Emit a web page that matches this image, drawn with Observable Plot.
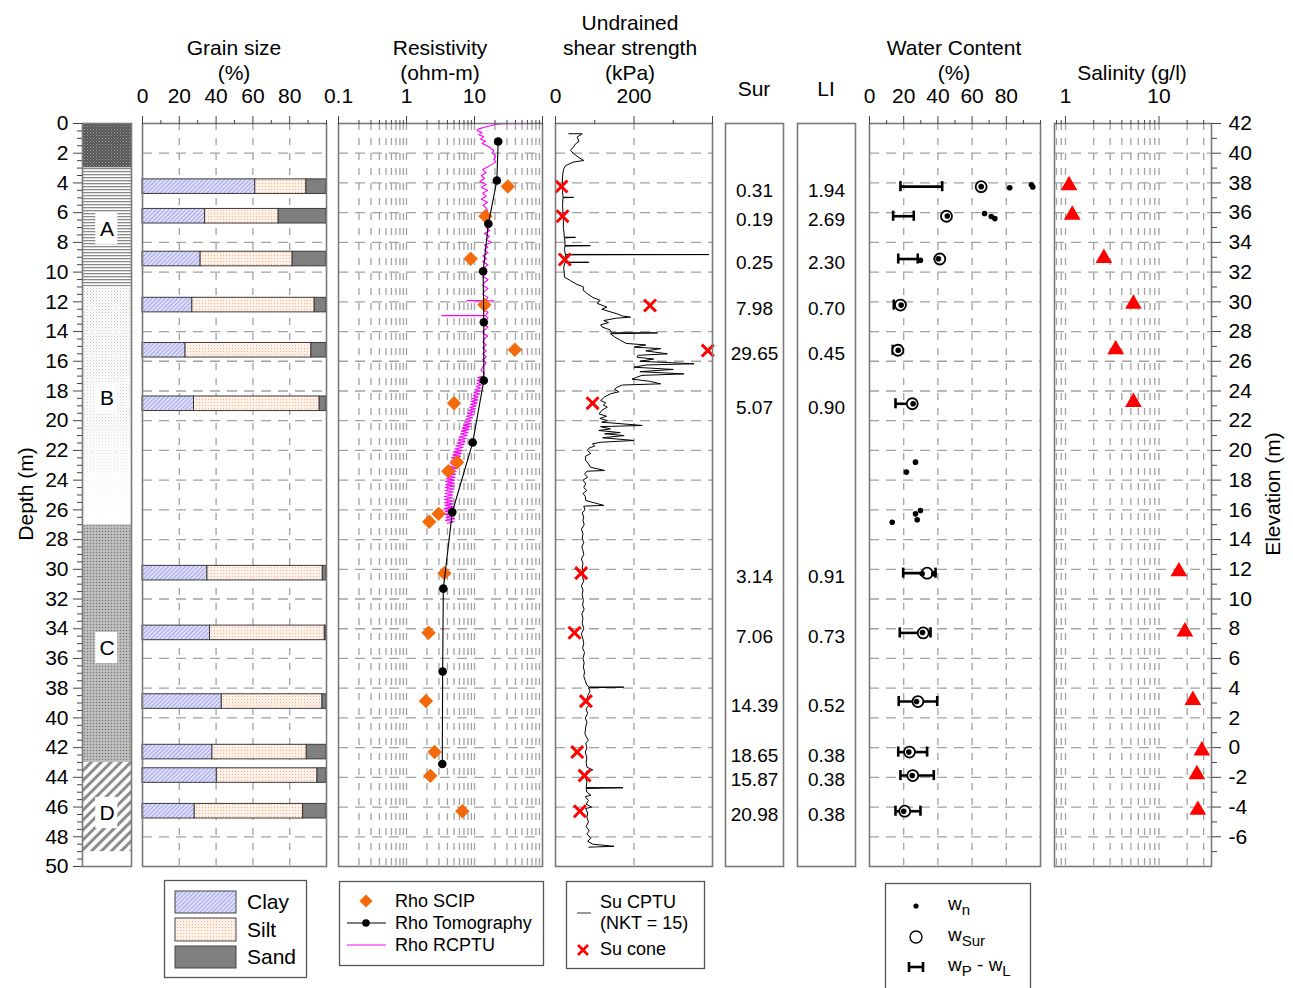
<!DOCTYPE html>
<html><head><meta charset="utf-8">
<script src="https://cdn.jsdelivr.net/npm/d3@7"></script>
<script src="https://cdn.jsdelivr.net/npm/@observablehq/plot@0.6"></script>
<style>
html,body{margin:0;padding:0;background:#fff;}
#root{position:relative;width:1293px;height:988px;overflow:hidden;font-family:"Liberation Sans",Arial,Helvetica,sans-serif;color:#000;}
.lbl{position:absolute;white-space:nowrap;transform:translate(-50%,-50%);font-size:21px;line-height:1;}
.rot{transform:translate(-50%,-50%) rotate(-90deg);}
</style></head>
<body>
<svg width="0" height="0" style="position:absolute;left:0;top:0">
<defs>
<pattern id="pTop" width="3" height="3" patternUnits="userSpaceOnUse"><rect width="3" height="3" fill="#565656"/><rect width="1" height="1" fill="#a0a0a0"/><rect x="1.5" y="1.5" width="1" height="1" fill="#8a8a8a"/></pattern>
<pattern id="pA" width="4" height="3" patternUnits="userSpaceOnUse"><rect width="4" height="3" fill="#fff"/><rect width="4" height="1.3" fill="#8a8a8a"/></pattern>
<pattern id="pB" width="3" height="3" patternUnits="userSpaceOnUse"><rect width="3" height="3" fill="#fff"/><rect width="1" height="1" fill="#c4c4c4"/><rect x="1.5" y="1.5" width="1" height="1" fill="#dadada"/></pattern>
<linearGradient id="gB" x1="0" y1="0" x2="0" y2="1"><stop offset="0" stop-color="#fff" stop-opacity="0"/><stop offset="0.55" stop-color="#fff" stop-opacity="0.25"/><stop offset="0.85" stop-color="#fff" stop-opacity="0.8"/><stop offset="1" stop-color="#fff" stop-opacity="1"/></linearGradient>
<pattern id="pC" width="3" height="3" patternUnits="userSpaceOnUse"><rect width="3" height="3" fill="#b4b4b4"/><rect width="1" height="1" fill="#777"/><rect x="1.5" y="1.5" width="1" height="1" fill="#e2e2e2"/></pattern>
<pattern id="pD" width="7" height="7" patternUnits="userSpaceOnUse" patternTransform="rotate(45)"><rect width="7" height="7" fill="#fff"/><rect width="3" height="7" fill="#8c8c8c"/></pattern>
<pattern id="pClay" width="3" height="3" patternUnits="userSpaceOnUse" patternTransform="rotate(45)"><rect width="3" height="3" fill="#e0e0fb"/><rect width="1" height="3" fill="#a3a3ec"/></pattern>
<pattern id="pSilt" width="3" height="3" patternUnits="userSpaceOnUse"><rect width="3" height="3" fill="#fff1e8"/><rect width="1" height="1" fill="#f7b48c"/></pattern>
</defs></svg>
<div id="root"></div>
<script>
// ---------------- data ----------------
const depthTicks = [0,2,4,6,8,10,12,14,16,18,20,22,24,26,28,30,32,34,36,38,40,42,44,46,48,50];
const gridDepths = [2,4,6,8,10,12,14,16,18,20,22,24,26,28,30,32,34,36,38,40,42,44,46,48];
const groundElevation = 42;
const elevationTicks = [42,40,38,36,34,32,30,28,26,24,22,20,18,16,14,12,10,8,6,4,2,0,-2,-4,-6];

const soilTop = [0, 3, 11, 27, 43];
const soilBottom = [3, 11, 27, 43, 49];
const unitName = ["A", "B", "C", "D"];
const unitLabelDepth = [7.1, 18.5, 35.3, 46.4];

const sampleDepth = [4.25, 6.24, 9.12, 12.22, 15.26, 18.86, 30.26, 34.28, 38.9, 42.3, 43.88, 46.28];
const clay = [61.3, 34, 31.6, 27.1, 23.4, 28, 35.3, 36.7, 43.1, 38, 40.4, 28.4];
const silt = [27.8, 40, 50, 66.5, 68.4, 68.3, 62.7, 62.4, 54.7, 51.3, 54.7, 58.9];
const sand = [10.9, 26, 18.4, 6.4, 8.2, 3.7, 2, 0.9, 2.2, 10.7, 4.9, 12.7];

const scipDepth = [4.24, 6.24, 9.1, 12.2, 15.23, 18.82, 22.8, 23.4, 26.27, 26.8, 30.26, 34.27, 38.87, 42.3, 43.9, 46.28];
const scipRho = [30.9, 14.5, 8.8, 14, 39.2, 5.0, 5.54, 4.12, 2.97, 2.16, 3.6, 2.11, 1.93, 2.59, 2.24, 6.63];
const tomoDepth = [1.21, 3.84, 6.75, 9.94, 13.37, 17.3, 21.47, 26.15, 31.3, 36.88, 43.1];
const tomoRho = [22.3, 21.3, 16, 13.4, 13.7, 13.7, 9.4, 4.72, 3.48, 3.4, 3.36];
const rcptu = [
[0.0,91.6],[0.02,27],[0.05,21.5],[0.2,15.3],[0.36,11.6],[0.47,10.9],[0.6,12.9],[0.75,11.6],[0.9,13.7],[1.05,12.2],
[1.2,14.5],[1.35,12.9],[1.5,15.3],[1.65,17.2],[1.82,19.2],[2.0,18.5],[2.2,20.5],[2.4,19.2],[2.6,20.5],[2.8,17.2],
[2.94,15.3],[3.1,13.2],[3.3,14.8],[3.5,12.6],[3.7,14.0],[3.9,12.0],[4.1,14.8],[4.3,12.6],[4.5,15.6],[4.7,13.2],
[4.9,14.8],[5.1,12.6],[5.3,15.6],[5.5,13.4],[5.7,14.9],[5.85,15.6],[6.0,14.0],[6.2,16.6],[6.4,14.1],[6.6,15.8],
[6.8,17.6],[7.0,14.8],[7.2,16.8],[7.4,14.0],[7.6,16.6],[7.8,14.8],[8.0,17.6],[8.2,14.0],[8.32,15.8],[8.5,14.0],
[8.7,15.8],[8.9,13.3],[9.1,15.0],[9.3,13.2],[9.5,15.8],[9.7,14.0],[9.9,13.2],[10.1,15.0],[10.3,13.2],[10.5,15.8],
[10.7,14.0],[10.9,13.2],[11.1,15.8],[11.3,14.0],[11.5,13.2],[11.7,15.8],[11.91,14.5],[11.92,7.8],[11.93,19.2],[11.94,14.5],
[12.1,15.8],[12.3,14.0],[12.5,13.2],[12.7,15.8],[12.92,14.5],[12.93,3.33],[12.94,14.5],[13.1,15.8],[13.3,14.0],[13.5,13.2],
[13.7,15.8],[13.9,14.0],[14.1,13.2],[14.3,15.6],[14.5,14.0],[14.7,13.2],[14.9,14.9],[15.1,13.2],[15.3,14.9],[15.5,13.2],
[15.7,14.9],[15.9,13.2],[16.1,14.8],[16.4,13.2],[16.6,12.4],[16.8,14.0],[17.0,13.5],[17.1,11.2],[17.2,13.0],[17.3,11.0],
[17.4,12.8],[17.5,10.9],[17.6,12.6],[17.7,10.6],[17.8,12.4],[17.9,10.2],[18.0,12.0],[18.1,9.9],[18.2,11.9],[18.3,9.6],
[18.4,11.4],[18.5,9.3],[18.6,11.2],[18.7,9.0],[18.8,10.9],[18.9,8.8],[19.0,10.6],[19.1,8.5],[19.2,10.3],[19.3,8.2],
[19.4,10.0],[19.5,7.9],[19.6,9.7],[19.7,7.6],[19.8,9.4],[19.9,7.4],[20.0,9.1],[20.1,7.1],[20.2,8.8],[20.3,6.9],
[20.4,8.6],[20.5,6.6],[20.6,8.3],[20.7,6.4],[20.8,8.0],[20.9,6.2],[21.0,7.8],[21.1,5.9],[21.2,7.5],[21.3,5.7],
[21.4,7.3],[21.5,5.5],[21.6,7.0],[21.7,5.3],[21.8,6.8],[21.9,5.1],[22.0,6.6],[22.1,4.9],[22.2,6.4],[22.3,4.8],
[22.4,6.2],[22.5,4.6],[22.6,6.0],[22.7,4.5],[22.8,5.8],[22.9,4.4],[23.0,5.7],[23.1,4.2],[23.2,5.5],[23.3,4.1],
[23.4,5.4],[23.5,4.0],[23.6,5.3],[23.7,3.9],[23.8,5.2],[23.9,3.9],[24.0,5.1],[24.1,3.8],[24.2,5.0],[24.3,3.8],
[24.4,5.0],[24.5,3.7],[24.6,4.9],[24.7,3.7],[24.8,4.9],[24.9,3.7],[25.0,4.8],[25.1,3.6],[25.2,4.8],[25.3,3.6],
[25.4,4.9],[25.5,3.6],[25.6,4.8],[25.7,3.7],[25.8,5.0],[25.9,3.6],[26.0,4.9],[26.1,3.7],[26.2,5.1],[26.3,3.6],
[26.4,4.9],[26.5,3.8],[26.6,5.1],[26.7,3.7],[26.8,5.0],[26.9,4.0]];

const suCPTU = [
[0.69,34],[0.69,68],[0.92,55],[1.2,60],[1.37,51],[1.6,45],[1.82,38],[2.04,47],[2.3,60],[2.49,72],[2.6,45],[2.83,26],
[3.05,21],[3.3,19],[3.6,18],[4.06,17],[4.5,18],[4.96,19],[4.97,46],[5.0,19],[5.5,18],[6.0,19],[6.5,20],[7.0,20],
[7.43,22],[7.65,22],[7.66,51],[7.7,23],[8.0,24],[8.21,24],[8.22,89],[8.25,24],[8.5,23],[8.81,25],[8.82,391],[8.84,26],
[9.1,24],[9.33,26],[9.34,85],[9.36,24],[9.67,21],[10.0,22],[10.34,23],[10.57,38],[10.8,52],[11.01,72],[11.2,70],[11.46,81],
[11.7,95],[11.91,114],[12.1,106],[12.36,131],[12.5,118],[12.81,157],[12.95,170],[13.03,191],[13.1,155],[13.26,123],[13.4,135],[13.55,115],
[13.7,119],[13.9,140],[14.08,142],[14.09,260],[14.15,140],[14.35,150],[14.6,166],[14.8,180],[14.9,230],[15.05,200],[15.15,268],[15.3,230],
[15.5,285],[15.6,210],[15.73,208],[15.85,250],[16.0,215],[16.17,353],[16.25,230],[16.4,200],[16.55,300],[16.7,215],[16.85,327],[16.95,220],
[17.07,208],[17.2,195],[17.35,240],[17.52,268],[17.6,170],[17.75,157],[17.9,150],[18.05,162],[18.19,140],[18.4,125],[18.64,115],[18.8,128],
[18.95,122],[19.09,132],[19.3,118],[19.54,111],[19.7,130],[19.85,113],[19.99,132],[20.1,118],[20.32,221],[20.4,115],[20.55,140],[20.66,110],
[20.8,165],[20.88,125],[21.0,175],[21.15,120],[21.33,200],[21.45,115],[21.56,94],[21.7,100],[21.85,85],[22.0,81],[22.2,90],[22.4,76],
[22.68,77],[22.9,84],[23.13,89],[23.35,125],[23.4,80],[23.6,74],[23.8,82],[24.0,70],[24.25,77],[24.5,72],[24.7,80],[24.9,70],
[25.1,76],[25.37,77],[25.7,123],[25.75,72],[26.0,75],[26.2,68],[26.49,72],[26.7,70],[27.0,73],[27.3,66],[27.61,70],[27.9,68],
[28.2,72],[28.5,67],[28.73,70],[29.0,72],[29.3,66],[29.6,70],[29.85,68],[30.2,71],[30.5,69],[30.8,72],[31.1,66],[31.4,70],
[31.7,68],[32.1,71],[32.4,69],[32.7,73],[33.0,67],[33.3,70],[33.6,68],[34.0,72],[34.34,66],[34.7,70],[35.0,72],[35.3,69],
[35.6,74],[36.0,70],[36.3,73],[36.58,71],[36.9,74],[37.2,72],[37.5,76],[37.8,80],[37.92,86],[37.93,174],[37.97,84],[38.2,88],
[38.5,82],[38.83,80],[39.1,86],[39.4,78],[39.7,82],[40.0,76],[40.3,80],[40.6,77],[41.07,75],[41.3,79],[41.5,84],[41.7,77],
[42.0,80],[42.3,76],[42.7,80],[43.0,78],[43.31,80],[43.5,95],[43.6,79],[44.0,76],[44.3,80],[44.69,78],[44.7,172],[44.75,78],
[45.0,80],[45.2,90],[45.3,76],[45.56,84],[45.8,78],[46.0,92],[46.1,77],[46.4,82],[46.7,80],[47.0,84],[47.3,78],[47.6,86],
[47.8,80],[48.1,90],[48.3,82],[48.5,95],[48.64,149],[48.7,85]];
const coneDepth = [4.24, 6.24, 9.15, 12.25, 15.28, 18.82, 30.26, 34.27, 38.87, 42.3, 43.88, 46.28];
const coneSu = [15.3, 17.9, 23.8, 240.8, 388, 94.5, 65.5, 48.5, 77.4, 55.3, 74, 62.1];

const sur = [0.31, 0.19, 0.25, 7.98, 29.65, 5.07, 3.14, 7.06, 14.39, 18.65, 15.87, 20.98];
const LI = [1.94, 2.69, 2.30, 0.70, 0.45, 0.90, 0.91, 0.73, 0.52, 0.38, 0.38, 0.38];

const wSur = [65.3, 45, 41.1, 18.1, 16.6, 25, 33.7, 31.4, 28.3, 23.4, 25.3, 20.6];
const wP = [18.1, 13.8, 16.8, 14.2, 13.6, 15.2, 19.7, 17.7, 17.1, 16.8, 18.1, 15.2];
const wL = [42.5, 25.9, 28.2, 19.1, 18, 24, 38.6, 35.7, 39.6, 33.7, 37.6, 29.8];
const wnDepth = [4.25, 4.33, 4.12, 4.27, 6.22, 6.06, 6.26, 6.4, 9.2, 9.1, 12.22, 15.26, 18.86, 22.79, 23.46, 26.04, 26.27, 26.67, 26.83, 30.3, 30.3, 34.25, 38.9, 42.3, 43.88, 46.28];
const wn = [65.3, 82, 94.7, 95.5, 45.5, 67.3, 71.2, 73.3, 29.8, 40.3, 18.5, 16.8, 25.5, 26.9, 21.6, 29.8, 26.9, 27.9, 13.3, 30.8, 37.6, 31, 27.5, 23, 25, 20];

const salDepth = [4.17, 6.15, 9.06, 12.14, 15.21, 18.75, 30.15, 34.2, 38.8, 42.2, 43.8, 46.2];
const salinity = [1.09, 1.18, 2.57, 5.32, 3.44, 5.32, 16.3, 18.9, 23, 28.7, 25.4, 26];

// ---------------- drawing ----------------
const FONT = '"Liberation Sans", Arial, Helvetica, sans-serif';
const TOP = 123, BOT = 866, MB = 10;
const root = document.getElementById("root");
const GRID = {stroke: "#a2a2a2", strokeWidth: 1.3};
const gridH = () => Plot.ruleY(gridDepths, {...GRID, strokeDasharray: "10,7"});
const gridV = (vals) => Plot.ruleX(vals, {...GRID, strokeDasharray: "7,8"});
const frame = () => Plot.frame({stroke: "#7a7a7a", strokeWidth: 1.6});
const decMinor = (decades) => decades.flatMap(p => [2,3,4,5,6,7,8,9].map(k => +(k * p).toPrecision(3)));

function topAxis(major, minor, fmt) {
  return [
    Plot.axisX(major, {anchor: "top", tickSize: 8, tickPadding: 13, tickFormat: fmt, label: null, stroke: "#444", fill: "#000"}),
    Plot.axisX(minor, {anchor: "top", tickSize: 4, tickFormat: () => "", label: null, stroke: "#444"})
  ];
}

function panel(x0, x1, ml, mr, x, marks, hasY) {
  const svg = Plot.plot({
    width: (x1 - x0) + ml + mr, height: BOT + MB,
    marginTop: TOP, marginBottom: MB, marginLeft: ml, marginRight: mr,
    x,
    y: hasY ? {domain: [0, 50], reverse: true} : {domain: [0, 50], reverse: true, axis: null},
    color: {type: "identity"},
    style: {fontSize: "21px", fontFamily: FONT, color: "#000", background: "transparent", maxWidth: "none", overflow: "visible"},
    marks
  });
  svg.style.position = "absolute";
  svg.style.left = (x0 - ml) + "px";
  svg.style.top = "0px";
  root.appendChild(svg);
}

// Soil column + depth axis
const layerFill = ["url(#pTop)", "url(#pA)", "url(#pB)", "url(#pC)", "url(#pD)"];
const layers = soilTop.map((t, i) => ({t, b: soilBottom[i], f: layerFill[i]}));
const unitLabels = unitName.map((s, i) => ({s, d: unitLabelDepth[i]}));
const minorDepth = d3.range(0.5, 50, 0.5).filter(d => d % 2 !== 0);
panel(82, 131, 82, 4, {domain: [0, 1], axis: null}, [
  Plot.rect(layers, {x1: 0, x2: 1, y1: "t", y2: "b", fill: "f"}),
  Plot.rect(layers.slice(2, 3), {x1: 0, x2: 1, y1: "t", y2: "b", fill: "url(#gB)"}),
  Plot.rect(unitLabels, {x1: 0.27, x2: 0.72, y1: d => d.d - 1.05, y2: d => d.d + 1.05, fill: "#fff"}),
  Plot.text(unitLabels, {x: 0.5, y: "d", text: "s", fontSize: 21}),
  frame(),
  Plot.axisY(depthTicks, {anchor: "left", tickSize: 9, tickPadding: 5, tickFormat: d => String(d), label: null, stroke: "#444", fill: "#000"}),
  Plot.axisY(minorDepth, {anchor: "left", tickSize: 5, tickFormat: () => "", label: null, stroke: "#444"})
], true);

// Grain size
const grainRects = sampleDepth.flatMap((d, i) => [
  {d, a: 0, b: clay[i], f: "url(#pClay)"},
  {d, a: clay[i], b: clay[i] + silt[i], f: "url(#pSilt)"},
  {d, a: clay[i] + silt[i], b: clay[i] + silt[i] + sand[i], f: "#7f7f7f"}
]);
panel(142, 326, 6, 6, {domain: [0, 100]}, [
  gridH(), gridV([20, 40, 60, 80]),
  Plot.rect(grainRects, {x1: "a", x2: "b", y1: d => d.d - 0.49, y2: d => d.d + 0.49, fill: "f", stroke: "#3a3a3a", strokeWidth: 1}),
  frame(),
  ...topAxis([0, 20, 40, 60, 80], [10, 30, 50, 70, 90, 100], d => String(d))
]);

// Resistivity
const resMajor = [0.1, 1, 10, 100];
const resMinor = decMinor([0.1, 1, 10]);
const tomo = tomoDepth.map((d, i) => ({d, v: tomoRho[i]}));
const scip = scipDepth.map((d, i) => ({d, v: scipRho[i]}));
panel(338, 542, 6, 6, {type: "log", domain: [0.1, 100]}, [
  gridH(), gridV(resMinor.concat([1, 10])),
  Plot.line(rcptu, {x: d => d[1], y: d => d[0], stroke: "#ff00ff", strokeWidth: 1.1}),
  Plot.dot(scip, {x: "v", y: "d", symbol: "diamond2", r: 6.5, fill: "#f46a0a"}),
  Plot.line(tomo, {x: "v", y: "d", stroke: "#000", strokeWidth: 1.1}),
  Plot.dot(tomo, {x: "v", y: "d", r: 4.3, fill: "#000"}),
  frame(),
  ...topAxis(resMajor, resMinor, d => d === 100 ? "" : String(d))
]);

// Undrained shear strength
const cone = coneDepth.map((d, i) => ({d, v: coneSu[i]}));
panel(555, 712, 6, 6, {domain: [0, 400]}, [
  gridH(), gridV([200]),
  Plot.line(suCPTU, {x: d => d[1], y: d => d[0], stroke: "#000", strokeWidth: 1}),
  Plot.dot(cone, {x: "v", y: "d", symbol: "times", r: 5.5, stroke: "#ff0000", strokeWidth: 3}),
  frame(),
  ...topAxis([0, 200, 400], [100, 300], d => d === 400 ? "" : String(d))
]);

// Sur
const surT = sampleDepth.map((d, i) => ({d, t: sur[i].toFixed(2)}));
panel(725, 783, 4, 4, {domain: [0, 1], axis: null}, [
  Plot.text(surT, {x: 0.5, y: "d", text: "t", dy: 4, fontSize: 19}),
  frame()
]);

// LI
const liT = sampleDepth.map((d, i) => ({d, t: LI[i].toFixed(2)}));
panel(797, 855, 4, 4, {domain: [0, 1], axis: null}, [
  Plot.text(liT, {x: 0.5, y: "d", text: "t", dy: 4, fontSize: 19}),
  frame()
]);

// Water content
const wRows = sampleDepth.map((d, i) => ({d, s: wSur[i], p: wP[i], l: wL[i]}));
const wnPts = wnDepth.map((d, i) => ({d, w: wn[i]}));
panel(869, 1040, 6, 6, {domain: [0, 100]}, [
  gridH(), gridV([20, 40, 60, 80]),
  Plot.ruleY(wRows, {y: "d", x1: "p", x2: "l", stroke: "#000", strokeWidth: 2.6}),
  Plot.ruleX(wRows, {x: "p", y1: d => d.d - 0.34, y2: d => d.d + 0.34, stroke: "#000", strokeWidth: 2.6}),
  Plot.ruleX(wRows, {x: "l", y1: d => d.d - 0.34, y2: d => d.d + 0.34, stroke: "#000", strokeWidth: 2.6}),
  Plot.dot(wRows, {x: "s", y: "d", r: 5.5, stroke: "#000", strokeWidth: 1.8, fill: "#fff"}),
  Plot.dot(wnPts, {x: "w", y: "d", r: 2.8, fill: "#000"}),
  frame(),
  ...topAxis([0, 20, 40, 60, 80], [10, 30, 50, 70, 90, 100], d => String(d))
]);

// Salinity + elevation axis
const salMajor = [1, 10];
const salMinor = [0.8, 0.9].concat(decMinor([1]), [20, 30]);
const sal = salDepth.map((d, i) => ({d, v: salinity[i]}));
const elevMinor = d3.range(1, 50, 2);
panel(1054, 1211, 6, 82, {type: "log", domain: [0.762, 36.4]}, [
  gridH(), gridV(salMinor.concat(salMajor)),
  Plot.dot(sal, {x: "v", y: "d", symbol: "triangle", r: 6.2, fill: "#ff0000"}),
  frame(),
  ...topAxis(salMajor, salMinor, d => String(d)),
  Plot.axisY(elevationTicks.map(e => groundElevation - e), {anchor: "right", tickSize: 9, tickPadding: 8, tickFormat: d => String(groundElevation - d), label: null, stroke: "#444", fill: "#000"}),
  Plot.axisY(elevMinor, {anchor: "right", tickSize: 5, tickFormat: () => "", label: null, stroke: "#444"})
], true);

// Titles
const titles = [
  ["Grain size", 234, 47], ["(%)", 234, 72],
  ["Resistivity", 440, 47], ["(ohm-m)", 440, 72],
  ["Undrained", 630, 22], ["shear strength", 630, 47], ["(kPa)", 630, 72],
  ["Sur", 754, 88], ["LI", 826, 88],
  ["Water Content", 954, 47], ["(%)", 954, 72],
  ["Salinity (g/l)", 1132, 72]
];
for (const [t, x, y] of titles) {
  const el = document.createElement("div");
  el.className = "lbl"; el.textContent = t;
  el.style.left = x + "px"; el.style.top = y + "px";
  root.appendChild(el);
}
for (const [t, x, y] of [["Depth (m)", 25, 494], ["Elevation (m)", 1272, 494]]) {
  const el = document.createElement("div");
  el.className = "lbl rot"; el.textContent = t;
  el.style.left = x + "px"; el.style.top = y + "px";
  root.appendChild(el);
}

// Legends
const leg = document.createElementNS("http://www.w3.org/2000/svg", "svg");
leg.setAttribute("width", 1293); leg.setAttribute("height", 988);
leg.style.position = "absolute"; leg.style.left = "0px"; leg.style.top = "0px";
leg.style.fontFamily = FONT;
leg.innerHTML = `
<rect x="164.5" y="880.5" width="142" height="97" fill="#fff" stroke="#555" stroke-width="1.3"/>
<rect x="175" y="891" width="61" height="22" fill="url(#pClay)" stroke="#444"/>
<rect x="175" y="918" width="61" height="23" fill="url(#pSilt)" stroke="#444"/>
<rect x="175" y="946" width="61" height="22" fill="#7f7f7f" stroke="#444"/>
<g font-size="21" fill="#000">
<text x="247" y="902" dy="0.35em">Clay</text>
<text x="247" y="930" dy="0.35em">Silt</text>
<text x="247" y="957" dy="0.35em">Sand</text>
</g>
<rect x="339.5" y="881.5" width="204" height="84" fill="#fff" stroke="#555" stroke-width="1.3"/>
<polygon points="366,894.5 372.5,901 366,907.5 359.5,901" fill="#f46a0a"/>
<line x1="347" y1="923" x2="386" y2="923" stroke="#000" stroke-width="1.1"/>
<circle cx="366" cy="923" r="3.8" fill="#000"/>
<line x1="347" y1="945" x2="386" y2="945" stroke="#ff00ff" stroke-width="1.1"/>
<g font-size="18" fill="#000">
<text x="395" y="901" dy="0.35em">Rho SCIP</text>
<text x="395" y="923" dy="0.35em">Rho Tomography</text>
<text x="395" y="945" dy="0.35em">Rho RCPTU</text>
</g>
<rect x="566.5" y="881.5" width="138" height="87" fill="#fff" stroke="#555" stroke-width="1.3"/>
<line x1="577" y1="913" x2="591" y2="913" stroke="#555" stroke-width="1.2"/>
<line x1="578" y1="945" x2="588" y2="955" stroke="#ff0000" stroke-width="2.6"/>
<line x1="588" y1="945" x2="578" y2="955" stroke="#ff0000" stroke-width="2.6"/>
<g font-size="18" fill="#000">
<text x="600" y="902" dy="0.35em">Su CPTU</text>
<text x="600" y="923" dy="0.35em">(NKT = 15)</text>
<text x="600" y="949" dy="0.35em">Su cone</text>
</g>
<rect x="885.5" y="883.5" width="145" height="110" fill="#fff" stroke="#555" stroke-width="1.3"/>
<circle cx="916" cy="906" r="2.6" fill="#000"/>
<circle cx="916" cy="937" r="6" fill="none" stroke="#000" stroke-width="1.4"/>
<line x1="908" y1="967" x2="924" y2="967" stroke="#000" stroke-width="2.6"/>
<line x1="909" y1="962" x2="909" y2="972" stroke="#000" stroke-width="2.6"/>
<line x1="923" y1="962" x2="923" y2="972" stroke="#000" stroke-width="2.6"/>
<g font-size="19" fill="#000">
<text x="948" y="903" dy="0.35em">w<tspan font-size="15" dy="5">n</tspan></text>
<text x="948" y="934" dy="0.35em">w<tspan font-size="15" dy="5">Sur</tspan></text>
<text x="948" y="964" dy="0.35em">w<tspan font-size="15" dy="5">P</tspan><tspan dy="-5"> - w</tspan><tspan font-size="15" dy="5">L</tspan></text>
</g>`;
root.appendChild(leg);
</script>
</body></html>
